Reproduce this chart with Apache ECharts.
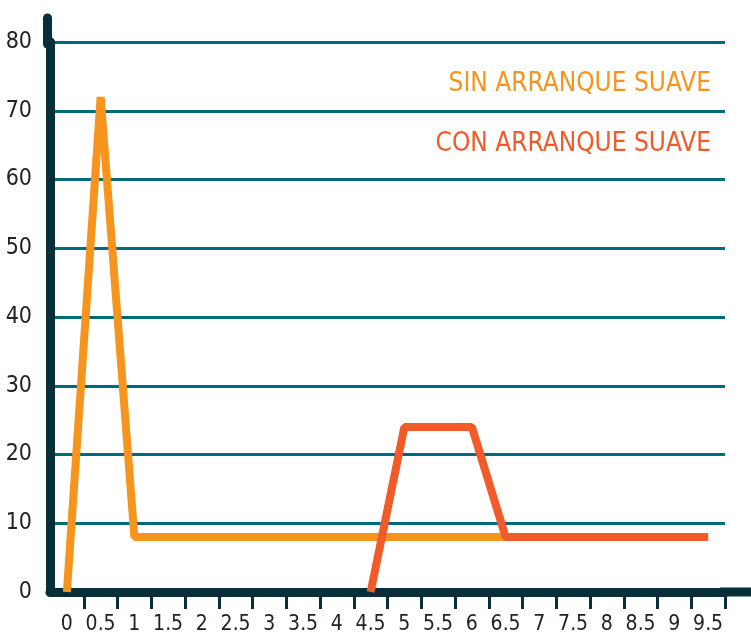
<!DOCTYPE html>
<html>
<head>
<meta charset="utf-8">
<script src="https://cdn.jsdelivr.net/npm/echarts@6/dist/echarts.min.js"></script>
<style>
html,body{margin:0;padding:0;background:#fff;}
#chart{width:751px;height:632px;}
</style>
</head>
<body>
<div id="chart"></div>
<script>
var categories = ['0','0.5','1','1.5','2','2.5','3','3.5','4','4.5','5','5.5','6','6.5','7','7.5','8','8.5','9','9.5'];
var sinArranque = [0,72,8,8,8,8,8,8,8,8,8,8,8,8,8,8,8,8,8,8];
var conArranque = [null,null,null,null,null,null,null,null,null,0,24,24,24,8,8,8,8,8,8,8];
var seriesNames = ['SIN ARRANQUE SUAVE','CON ARRANQUE SUAVE'];

var fontName = '"DejaVu Sans Condensed","Liberation Sans Narrow",sans-serif';
var dark = '#062f3a', teal = '#006b7b';
var orange = '#f7941d', red = '#f15a29';

var chart = echarts.init(document.getElementById('chart'));
var option = {
	animation:false,
	grid:{left:50,right:26,top:42,bottom:40,outerBoundsMode:'none',containLabel:false},
	legend:{
		right:30,top:66,orient:'vertical',align:'right',
		icon:'none',itemWidth:0,itemHeight:0,itemGap:34,selectedMode:false,
		textStyle:{fontFamily:fontName,fontSize:26},
		data:[
			{name:seriesNames[0],textStyle:{color:orange}},
			{name:seriesNames[1],textStyle:{color:red}}
		]
	},
	xAxis:{
		type:'category',data:categories,boundaryGap:true,
		axisLine:{lineStyle:{color:dark,width:9}},
		axisTick:{show:true,length:17,lineStyle:{color:dark,width:3}},
		axisLabel:{color:'#222',fontFamily:fontName,fontSize:21,margin:22,interval:0}
	},
	yAxis:{
		type:'value',min:0,max:80,interval:10,
		axisLine:{show:true,lineStyle:{color:dark,width:9}},
		axisTick:{show:false},
		axisLabel:{color:'#222',fontFamily:fontName,fontSize:23,margin:18},
		splitLine:{lineStyle:{color:teal,width:3}}
	},
	graphic:[
		{type:'line',z:100,shape:{x1:47.5,y1:18,x2:47.5,y2:44},style:{stroke:dark,lineWidth:9,lineCap:'round'}},
		{type:'rect',z:100,shape:{x:720,y:587.5,width:31,height:9},style:{fill:dark}},
		//盖住最左侧刻度
		{type:'rect',z:100,shape:{x:44,y:597,width:10,height:14},style:{fill:'#fff'}}
	],
	series:[
		{name:seriesNames[0],type:'line',data:sinArranque,symbol:'none',
			lineStyle:{color:orange,width:8,join:'bevel'},itemStyle:{color:orange}},
		{name:seriesNames[1],type:'line',data:conArranque,symbol:'none',
			lineStyle:{color:red,width:8,join:'bevel'},itemStyle:{color:red}}
	]
};
chart.setOption(option);
</script>
</body>
</html>
